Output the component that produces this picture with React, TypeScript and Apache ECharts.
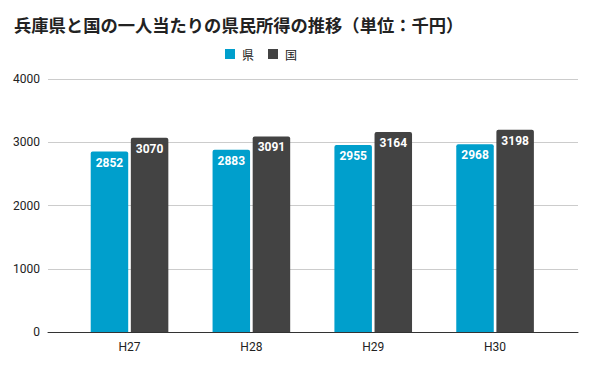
import React, { useEffect, useRef } from "react";
import * as echarts from "echarts";

const categories = ["H27", "H28", "H29", "H30"];
const prefValues = [2852, 2883, 2955, 2968];
const nationValues = [3070, 3091, 3164, 3198];
const seriesNames = ["県", "国"];
const yTicks = { min: 0, max: 4000, interval: 1000 };

const titleText = "兵庫県と国の一人当たりの県民所得の推移（単位：千円）";

export default function App() {
  const ref = useRef<HTMLDivElement>(null);
  useEffect(() => {
    if (!ref.current) return;
    const chart = echarts.init(ref.current, null, { renderer: "svg" });
    const barLabel = {
      show: true,
      position: "insideTop" as const,
      distance: 5,
      color: "#ffffff",
      fontWeight: "bold" as const,
      fontSize: 12,
      fontFamily: "Roboto, Arial, sans-serif",
    };
    chart.setOption({
      animation: false,
      backgroundColor: "#ffffff",
      title: {
        text: titleText,
        left: 9,
        top: 11,
        textStyle: {
          fontSize: 17.3,
          fontWeight: "bold",
          color: "#222222",
          fontFamily: "'Noto Sans CJK JP', sans-serif",
        },
      },
      legend: {
        left: 220,
        top: 43,
        itemWidth: 10,
        itemHeight: 10,
        itemGap: 14,
        icon: "rect",
        data: seriesNames,
        textStyle: {
          fontSize: 12,
          color: "#222222",
          padding: [0, 0, 0, 2],
          fontFamily: "'Noto Sans CJK JP', sans-serif",
        },
      },
      grid: [
        { left: 48, right: 18, top: 79, bottom: 34, containLabel: false },
        { left: 68.6, right: 40, top: 79, bottom: 34, containLabel: false },
      ],
      xAxis: [
        {
          type: "value",
          gridIndex: 0,
          min: 0,
          max: 1,
          axisLine: { show: true, onZero: false, lineStyle: { color: "#333333", width: 1 } },
          axisTick: { show: false },
          axisLabel: { show: false },
          splitLine: { show: false },
        },
        {
          type: "category",
          gridIndex: 1,
          data: categories,
          axisLine: { show: false },
          axisTick: { show: false },
          axisLabel: {
            color: "#222222",
            fontSize: 12,
            margin: 9,
            fontFamily: "Roboto, Arial, sans-serif",
          },
        },
      ],
      yAxis: [
        {
          type: "value",
          gridIndex: 0,
          min: yTicks.min,
          max: yTicks.max,
          interval: yTicks.interval,
          axisLine: { show: false },
          axisTick: { show: false },
          axisLabel: {
            color: "#222222",
            fontSize: 12,
            margin: 8,
            fontFamily: "Roboto, Arial, sans-serif",
            formatter: (v: number) => String(v),
          },
          splitLine: { show: true, lineStyle: { color: "#cccccc", width: 1 } },
        },
        {
          type: "value",
          gridIndex: 1,
          min: yTicks.min,
          max: yTicks.max,
          interval: yTicks.interval,
          show: false,
          splitLine: { show: false },
        },
      ],
      series: [
        {
          name: seriesNames[0],
          type: "bar",
          xAxisIndex: 1,
          yAxisIndex: 1,
          data: prefValues,
          barWidth: 37.5,
          barGap: "7%",
          itemStyle: { color: "#009fcc", borderRadius: [2, 2, 0, 0] },
          label: barLabel,
        },
        {
          name: seriesNames[1],
          type: "bar",
          xAxisIndex: 1,
          yAxisIndex: 1,
          data: nationValues,
          barWidth: 37.5,
          barGap: "7%",
          itemStyle: { color: "#434343", borderRadius: [2, 2, 0, 0] },
          label: barLabel,
        },
      ],
    });
    return () => chart.dispose();
  }, []);
  return <div ref={ref} style={{ width: 596, height: 366, position: "absolute", left: 0, top: 0 }} />;
}
